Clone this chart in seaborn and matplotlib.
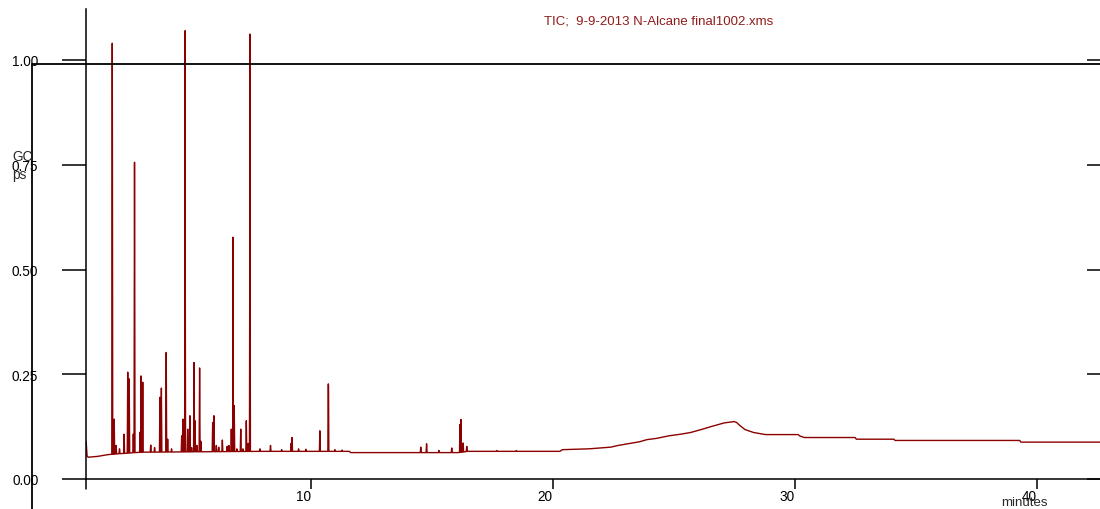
import numpy as np
import matplotlib.pyplot as plt
import seaborn as sns
from matplotlib.lines import Line2D

# baseline of the TIC trace (minutes, counts scaled to 1.00)
base_t = [0.72, 0.76, 0.80, 1.20, 1.60, 2.00, 3.00, 8.00, 11.60, 11.65,
          16.10, 16.50, 20.30, 20.40, 21.50, 22.40, 22.70, 23.20, 23.60,
          23.90, 24.30, 24.80, 25.30, 25.70, 26.20, 26.60, 27.10, 27.50,
          27.60, 27.75, 27.95, 28.30, 28.80, 30.15, 30.20, 30.40, 32.50,
          32.55, 34.10, 34.15, 39.30, 39.35, 42.62]
base_v = [0.090, 0.055, 0.052, 0.054, 0.058, 0.060, 0.064, 0.066, 0.066, 0.063,
          0.063, 0.066, 0.066, 0.070, 0.072, 0.076, 0.080, 0.085, 0.089,
          0.094, 0.097, 0.103, 0.107, 0.111, 0.119, 0.126, 0.134, 0.137,
          0.135, 0.127, 0.118, 0.111, 0.106, 0.106, 0.103, 0.099, 0.099,
          0.095, 0.095, 0.092, 0.092, 0.088, 0.088]

# peaks: apex time, apex height, height of the dense lower part (nan = none)
peak_t = [1.80, 1.88, 1.96, 2.10, 2.29, 2.44, 2.50, 2.67, 2.72, 2.95,
          2.99, 3.06, 3.39, 3.55, 3.77, 3.83, 4.03, 4.09, 4.25, 4.67,
          4.72, 4.81, 4.92, 5.01, 5.08, 5.18, 5.22, 5.30, 5.41, 5.46,
          5.95, 6.00, 6.10, 6.20, 6.35, 6.55, 6.62, 6.72, 6.79, 6.84,
          6.95, 7.11, 7.20, 7.34, 7.42, 7.49, 7.90, 8.34, 8.80, 9.19,
          9.23, 9.50, 9.80, 10.38, 10.73, 11.00, 11.30, 14.55, 14.79, 15.30,
          15.83, 16.17, 16.21, 16.30, 16.45, 17.70, 18.50]
peak_h = [1.040, 0.143, 0.080, 0.072, 0.107, 0.255, 0.239, 0.107, 0.756, 0.112,
          0.246, 0.231, 0.081, 0.075, 0.195, 0.217, 0.302, 0.095, 0.072, 0.103,
          0.143, 1.070, 0.119, 0.151, 0.075, 0.278, 0.139, 0.080, 0.265, 0.090,
          0.135, 0.151, 0.080, 0.076, 0.093, 0.078, 0.080, 0.119, 0.577, 0.175,
          0.072, 0.119, 0.072, 0.139, 0.085, 1.062, 0.072, 0.080, 0.070, 0.085,
          0.099, 0.072, 0.071, 0.115, 0.227, 0.070, 0.069, 0.076, 0.084, 0.068,
          0.074, 0.130, 0.142, 0.086, 0.078, 0.068, 0.068]
peak_mid = {1.80: 0.742, 2.72: 0.537, 4.81: 0.461, 6.79: 0.175,
            7.49: 0.501, 10.73: 0.222, 16.21: 0.128}

y_ticks = [0.00, 0.25, 0.50, 0.75, 1.00]
y_labels = ["0.00", "0.25", "0.50", "0.75", "1.00"]
x_ticks = [10, 20, 30, 40]
x_labels = ["10", "20", "30", "40"]

TRACE = "#8b0000"
TITLE_RED = "#8f1c1c"

# build the trace: baseline points plus narrow spikes
pts = list(zip(base_t, base_v))
for t, h in zip(peak_t, peak_h):
    foot = float(np.interp(t, base_t, base_v))
    pts.append((t - 0.02, foot))
    pts.append((t, h))
    pts.append((t + 0.02, foot))
    if t in peak_mid:
        pts.append((t - 0.008, peak_mid[t]))
        pts.append((t + 0.008, peak_mid[t]))
pts.sort(key=lambda p: p[0])
trace_t = [p[0] for p in pts]
trace_v = [p[1] for p in pts]

sns.set_style("white")
plt.rcParams["font.family"] = ["Liberation Sans", "DejaVu Sans"]

W, H = 1100, 510
fig = plt.figure(figsize=(11, 5.1), dpi=100)
ax = fig.add_axes([86 / W, 30 / H, 1014 / W, 470 / H])

sns.lineplot(x=trace_t, y=trace_v, ax=ax, estimator=None, sort=False,
             color=TRACE, lw=1.0)

ax.set_xlim(0.715, 42.62)
ax.set_ylim(0, 470 / 419)

for side in ["top", "right"]:
    ax.spines[side].set_visible(False)
for side in ["left", "bottom"]:
    ax.spines[side].set_color("black")
    ax.spines[side].set_linewidth(1.1)

ax.set_yticks(y_ticks)
ax.set_yticklabels(y_labels)
ax.tick_params(axis="y", direction="out", length=17.3, width=1.1,
               pad=17, labelsize=9.8, colors="black", left=True)

ax.set_xticks(x_ticks)
ax.set_xticklabels(x_labels)
ax.tick_params(axis="x", direction="out", length=7.2, width=1.1,
               pad=0, labelsize=9.8, colors="black", bottom=True)
for lbl in ax.get_xticklabels():
    lbl.set_ha("right")

ax.set_xlabel("")
ax.set_ylabel("")

right = ax.secondary_yaxis("right")
right.set_yticks(y_ticks)
right.set_yticklabels([])
right.tick_params(direction="in", length=9.4, width=1.1, colors="black")
right.spines["right"].set_visible(False)

# left spine runs a little below zero
ax.add_line(Line2D([0, 0], [0, -10 / 470], transform=ax.transAxes,
                   color="black", lw=1.1, clip_on=False))

# frame lines of the original print
fig.add_artist(Line2D([32 / W, 1], [1 - 65 / H, 1 - 65 / H],
                      transform=fig.transFigure, color="black", lw=1.3))
fig.add_artist(Line2D([32 / W, 32 / W], [1 - 65 / H, 0],
                      transform=fig.transFigure, color="black", lw=1.3))

fig.text(12 / W, 1 - 157 / H, "GC", ha="left", va="center", fontsize=9.8)
fig.text(12 / W, 1 - 175 / H, "ps", ha="left", va="center", fontsize=9.8)
fig.text(1024.5 / W, 1 - 503.5 / H, "minutes", ha="center", va="center",
         fontsize=9.5)
fig.text(659 / W, 1 - 22 / H, "TIC;  9-9-2013 N-Alcane final1002.xms",
         ha="center", va="center", fontsize=9.5, color=TITLE_RED)

fig.savefig("out.png", dpi=100)
plt.close(fig)
